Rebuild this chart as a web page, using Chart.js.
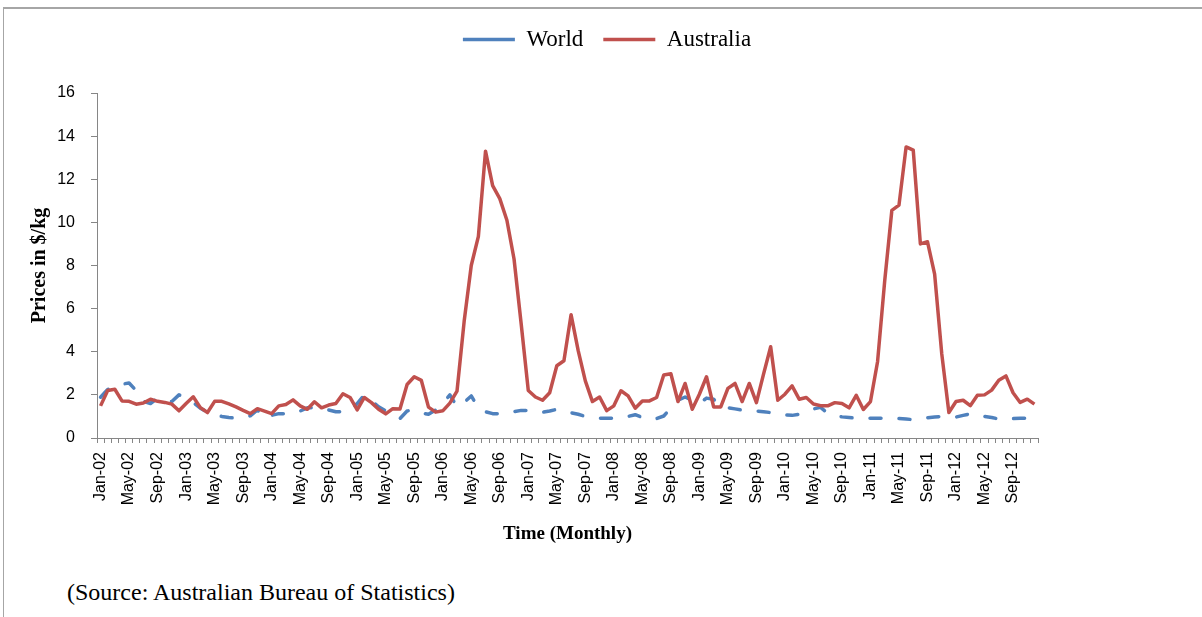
<!DOCTYPE html>
<html>
<head>
<meta charset="utf-8">
<script src="https://cdn.jsdelivr.net/npm/chart.js@4.4.1/dist/chart.umd.min.js"></script>
<style>
  html, body { margin: 0; padding: 0; background: #fff; }
  body { width: 1202px; height: 617px; position: relative; overflow: hidden; }
  .frame { position: absolute; left: 3px; top: 7px; right: 0; bottom: 0; border-top: 2px solid #a6a6a6; border-left: 1px solid #a6a6a6; }
  .wrap { position: absolute; left: 0; top: 0; width: 1202px; height: 560px; }
  .source { position: absolute; left: 67px; top: 579px; font-family: "Liberation Serif", "Times New Roman", serif; font-size: 24px; line-height: 26px; color: #000; }
</style>
</head>
<body>
<div class="frame"></div>
<div class="wrap"><canvas id="priceChart"></canvas></div>
<div class="source">(Source: Australian Bureau of Statistics)</div>
<script>
const months = ['Jan', 'Feb', 'Mar', 'Apr', 'May', 'Jun', 'Jul', 'Aug', 'Sep', 'Oct', 'Nov', 'Dec'];
const years = ['02', '03', '04', '05', '06', '07', '08', '09', '10', '11', '12'];
const categories = [];
years.forEach(y => months.forEach(m => categories.push(m + '-' + y)));
// only every 4th month gets a label on the axis
const tickLabels = categories.filter((c, i) => i % 4 === 0);

// World price, $/kg, Jan-02 .. Dec-12
const world = [
    1.89, 2.25, 2.4, 2.5, 2.55, 2.2, 1.7, 1.6, 1.85, 1.75, 1.69, 2.0,
    1.85, 1.65, 1.38, 1.2, 1.1, 1.0, 0.95, 0.92, 0.95, 1.03, 1.3, 0.92,
    1.05, 1.13, 1.13, 1.13, 1.25, 1.4, 1.4, 1.4, 1.3, 1.22, 1.22, 1.22,
    1.6, 2.0, 1.72, 1.45, 1.25, 1.05, 0.9, 1.25, 1.3, 1.15, 1.1, 1.3,
    1.6, 2.0, 1.45, 1.65, 1.95, 1.4, 1.22, 1.13, 1.12, 1.15, 1.22, 1.28,
    1.28, 1.22, 1.2, 1.25, 1.33, 1.25, 1.17, 1.1, 1.0, 0.95, 0.92, 0.92,
    0.92, 0.92, 1.0, 1.08, 0.95, 0.85, 0.9, 1.02, 1.4, 1.75, 1.9, 1.75,
    1.6, 1.85, 1.8, 1.45, 1.4, 1.35, 1.3, 1.28, 1.25, 1.22, 1.18, 1.12,
    1.07, 1.05, 1.1, 1.2, 1.35, 1.42, 1.15, 1.05, 0.98, 0.95, 0.92, 0.92,
    0.92, 0.92, 0.92, 0.92, 0.9, 0.88, 0.85, 0.9, 0.94, 0.97, 1.0, 1.0,
    0.97, 1.05, 1.12, 1.0, 1.0, 0.95, 0.88, 0.85, 0.9, 0.92, 0.92, 0.92
];
// Australia price, $/kg, Jan-02 .. Dec-12
const australia = [
    1.49, 2.2, 2.26, 1.72, 1.7, 1.57, 1.62, 1.8, 1.7, 1.65, 1.57, 1.26,
    1.6, 1.91, 1.41, 1.18, 1.7, 1.7, 1.58, 1.44, 1.28, 1.13, 1.36, 1.25,
    1.13, 1.49, 1.55, 1.77, 1.49, 1.33, 1.68, 1.4, 1.53, 1.6, 2.05, 1.88,
    1.3, 1.88, 1.64, 1.33, 1.12, 1.36, 1.35, 2.48, 2.84, 2.67, 1.43, 1.2,
    1.26, 1.62, 2.17, 5.4, 8.0, 9.35, 13.3, 11.7, 11.1, 10.1, 8.3, 5.3,
    2.2, 1.9, 1.75, 2.1, 3.35, 3.58, 5.72, 4.05, 2.65, 1.69, 1.9, 1.27,
    1.49, 2.19, 1.95, 1.38, 1.72, 1.72, 1.88, 2.92, 2.98, 1.69, 2.53, 1.33,
    2.03, 2.84, 1.44, 1.44, 2.3, 2.53, 1.69, 2.53, 1.64, 2.96, 4.23, 1.75,
    2.03, 2.42, 1.8, 1.88, 1.58, 1.5, 1.49, 1.64, 1.6, 1.4, 1.98, 1.32,
    1.69, 3.55, 7.3, 10.56, 10.8, 13.5, 13.35, 9.0, 9.1, 7.6, 3.9, 1.18,
    1.69, 1.75, 1.5, 1.98, 2.0, 2.22, 2.68, 2.88, 2.1, 1.65, 1.8, 1.57
];

const axisGrey = '#868686';
const serif = '"Liberation Serif", "Times New Roman", serif';
const sans = '"Liberation Sans", Arial, sans-serif';

// pin the legend height so the plot area starts where the original does,
// and slide the legend right so it sits centred on the page, not the plot
const legendPlace = {
    id: 'legendPlace',
    afterInit(chart) {
        const fit = chart.legend.fit;
        chart.legend.fit = function () {
            fit.call(this);
            this.height = 85;
        };
    },
    afterLayout(chart) {
        chart.legend.left += 77;
        chart.legend.right += 77;
    }
};

const ctx = document.getElementById('priceChart').getContext('2d');
new Chart(ctx, {
    type: 'line',
    data: {
        labels: categories,
        datasets: [
            {
                label: 'World',
                data: world,
                borderColor: '#4F81BD',
                backgroundColor: '#4F81BD',
                borderWidth: 3.5,
                borderDash: [11, 18],
                borderCapStyle: 'round',
                borderJoinStyle: 'round',
                pointRadius: 0,
                tension: 0,
                order: 1
            },
            {
                label: 'Australia',
                data: australia,
                borderColor: '#C0504D',
                backgroundColor: '#C0504D',
                borderWidth: 3.5,
                borderJoinStyle: 'round',
                pointRadius: 0,
                tension: 0,
                order: 0
            }
        ]
    },
    options: {
        responsive: true,
        maintainAspectRatio: false,
        animation: false,
        layout: { padding: { left: 22, right: 164, top: 8, bottom: 15 } },
        plugins: {
            tooltip: { enabled: false },
            legend: {
                position: 'top',
                labels: {
                    usePointStyle: true,
                    pointStyle: 'line',
                    pointStyleWidth: 52,
                    padding: 20,
                    color: '#000',
                    font: { family: serif, size: 23 },
                    sort: (a, b) => a.datasetIndex - b.datasetIndex
                }
            }
        },
        scales: {
            x: {
                offset: true,
                afterFit: s => { s.height = 107; },
                border: { color: axisGrey, width: 1 },
                grid: { display: true, drawOnChartArea: false, offset: true, tickLength: 5, color: axisGrey },
                ticks: {
                    autoSkip: false,
                    minRotation: 90,
                    maxRotation: 90,
                    padding: 9,
                    color: '#000',
                    font: { family: sans, size: 16 },
                    callback: function (val, i) {
                        return i % 4 === 0 ? tickLabels[i / 4] : '';
                    }
                },
                title: {
                    display: true,
                    text: 'Time (Monthly)',
                    color: '#000',
                    padding: { top: 0, bottom: 0 },
                    font: { family: serif, size: 19, weight: 'bold' }
                }
            },
            y: {
                min: 0,
                max: 16,
                afterFit: s => { s.width = 75; },
                border: { color: axisGrey, width: 1 },
                grid: { display: true, drawOnChartArea: false, tickLength: 6, color: axisGrey },
                ticks: {
                    stepSize: 2,
                    padding: 16,
                    color: '#000',
                    font: { family: sans, size: 16 }
                },
                title: {
                    display: true,
                    text: 'Prices in $/kg',
                    color: '#000',
                    padding: { top: 6, bottom: 0 },
                    font: { family: serif, size: 20, weight: 'bold' }
                }
            }
        }
    },
    plugins: [legendPlace]
});
</script>
</body>
</html>
